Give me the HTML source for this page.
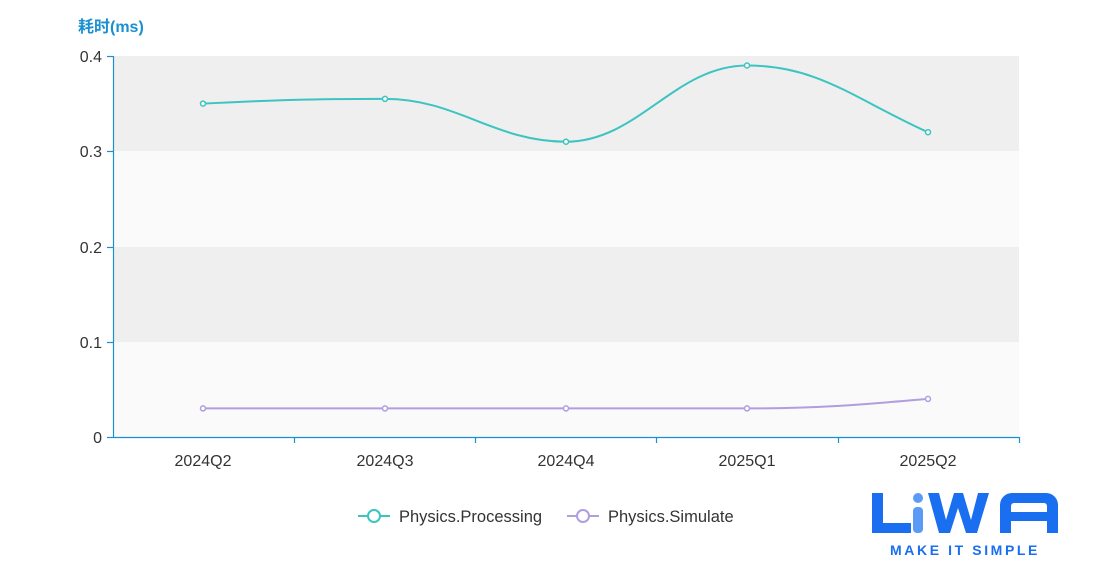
<!DOCTYPE html>
<html><head><meta charset="utf-8"><style>
html,body{margin:0;padding:0;background:#fff;}
svg{display:block;font-family:"Liberation Sans","Noto Sans CJK SC",sans-serif;}
</style></head><body>
<svg width="1098" height="567" viewBox="0 0 1098 567">
<rect x="113" y="56" width="906" height="95" fill="#efefef"/>
<rect x="113" y="151" width="906" height="96" fill="#fafafa"/>
<rect x="113" y="247" width="906" height="95" fill="#efefef"/>
<rect x="113" y="342" width="906" height="95" fill="#fafafa"/>
<text x="78" y="32" font-size="16" font-weight="bold" fill="#1a90d0">耗时(ms)</text>
<g stroke="#1a90d0" stroke-width="1.2" fill="none">
<line x1="113.5" y1="56" x2="113.5" y2="437"/>
<line x1="113" y1="437.5" x2="1019" y2="437.5"/>
<line x1="107" y1="56.5" x2="113" y2="56.5"/>
<line x1="107" y1="151.5" x2="113" y2="151.5"/>
<line x1="107" y1="247.5" x2="113" y2="247.5"/>
<line x1="107" y1="342.5" x2="113" y2="342.5"/>
<line x1="107" y1="437.5" x2="113" y2="437.5"/>
<line x1="294.5" y1="437" x2="294.5" y2="443"/>
<line x1="475.5" y1="437" x2="475.5" y2="443"/>
<line x1="656.5" y1="437" x2="656.5" y2="443"/>
<line x1="838.5" y1="437" x2="838.5" y2="443"/>
<line x1="1019.5" y1="437" x2="1019.5" y2="443"/>
</g>
<g font-size="16" fill="#333" text-anchor="end">
<text x="102" y="62">0.4</text><text x="102" y="157">0.3</text><text x="102" y="253">0.2</text><text x="102" y="348">0.1</text><text x="102" y="443">0</text>
</g>
<g font-size="16" fill="#333" text-anchor="middle">
<text x="203" y="466">2024Q2</text><text x="385" y="466">2024Q3</text><text x="566" y="466">2024Q4</text><text x="747" y="466">2025Q1</text><text x="928" y="466">2025Q2</text>
</g>
<path d="M203,103.6 C275,100 313,98.9 385,98.9 C457,98.9 494,141.7 566,141.7 C638,141.7 675,65.5 747,65.5 C819,65.5 856,100 928,132.2" fill="none" stroke="#3cc4c0" stroke-width="2"/>
<path d="M203,408.4 L747,408.4 C819,408.4 856,405 928,398.9" fill="none" stroke="#b09ee0" stroke-width="2"/>
<g fill="#fff" stroke="#3cc4c0" stroke-width="1.5">
<circle cx="203" cy="103.6" r="2.5"/><circle cx="385" cy="98.9" r="2.5"/><circle cx="566" cy="141.7" r="2.5"/><circle cx="747" cy="65.5" r="2.5"/><circle cx="928" cy="132.2" r="2.5"/>
</g>
<g fill="#fff" stroke="#b09ee0" stroke-width="1.5">
<circle cx="203" cy="408.4" r="2.5"/><circle cx="385" cy="408.4" r="2.5"/><circle cx="566" cy="408.4" r="2.5"/><circle cx="747" cy="408.4" r="2.5"/><circle cx="928" cy="398.9" r="2.5"/>
</g>
<line x1="358" y1="516" x2="390" y2="516" stroke="#3cc4c0" stroke-width="2"/>
<circle cx="374" cy="516" r="6" fill="#fff" stroke="#3cc4c0" stroke-width="2"/>
<text x="399" y="522" font-size="16.5" fill="#333">Physics.Processing</text>
<line x1="567" y1="516" x2="599" y2="516" stroke="#b09ee0" stroke-width="2"/>
<circle cx="583" cy="516" r="6" fill="#fff" stroke="#b09ee0" stroke-width="2"/>
<text x="608" y="522" font-size="16.5" fill="#333">Physics.Simulate</text>
<g fill="#1a6ff0">
<path d="M872,493 h11 v30 h28 v10 h-39 z"/>
<rect x="913" y="507" width="10" height="26" rx="4" fill="#5a9cf5"/>
<circle cx="918" cy="498" r="5" fill="#5a9cf5"/>
<path d="M928,493 h11 l7,27 l8,-27 h9 l8,27 l7,-27 h11 l-12,40 h-11 l-8,-25 l-8,25 h-11 z"/>
<path d="M1000,533 v-28 a12,12 0 0 1 12,-12 h34 a12,12 0 0 1 12,12 v28 h-11 v-12 h-36 v12 z M1011,512 h36 v-6 a3,3 0 0 0 -3,-3 h-30 a3,3 0 0 0 -3,3 z"/>
</g>
<text x="965" y="555" font-size="14" font-weight="bold" fill="#1a6ff0" text-anchor="middle" letter-spacing="2.6">MAKE IT SIMPLE</text>
</svg>
</body></html>
